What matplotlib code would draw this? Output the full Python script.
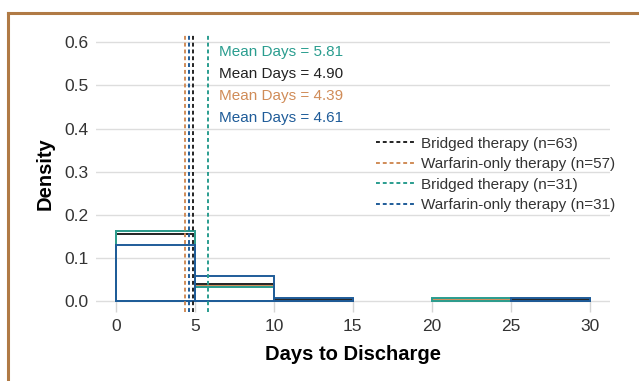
import numpy as np
import matplotlib
matplotlib.use("Agg")
import matplotlib.pyplot as plt
from matplotlib.lines import Line2D

plt.rcParams['font.family'] = ['Liberation Sans', 'DejaVu Sans']

# bins (days) and patient counts per bin
bin_edges = [0, 5, 10, 15, 20, 25, 30]
labels = ['Bridged therapy (n=63)', 'Warfarin-only therapy (n=57)',
          'Bridged therapy (n=31)', 'Warfarin-only therapy (n=31)']
counts_bridged_63 = [49, 12, 1, 0, 0, 1]
counts_warfarin_57 = [46, 10, 0, 0, 1, 0]
counts_bridged_31 = [25, 5, 0, 0, 1, 0]
counts_warfarin_31 = [20, 9, 1, 0, 0, 1]
mean_days = [4.90, 4.39, 5.81, 4.61]
colors = ['#222222', '#d08c58', '#2a9d8f', '#1f5c99']

# order of the mean text labels from top to bottom
text_order = [2, 0, 1, 3]
text_y = [0.577, 0.526, 0.475, 0.424]

all_counts = [counts_bridged_63, counts_warfarin_57, counts_bridged_31, counts_warfarin_31]

fig = plt.figure(figsize=(6.39, 3.81), dpi=100)
ax = fig.add_axes([0.150, 0.181, 0.805, 0.727])

edges = np.array(bin_edges)
widths = np.diff(edges)
for counts, color in zip(all_counts, colors):
    counts = np.array(counts, dtype=float)
    dens = counts / (counts.sum() * widths)
    mask = dens > 0
    ax.bar(edges[:-1][mask], dens[mask], width=widths[mask], align='edge',
           fill=False, edgecolor=color, linewidth=1.4, zorder=3)

for m, color, lab in zip(mean_days, colors, labels):
    ax.axvline(m, color=color, linestyle=(0, (2, 1.5)), linewidth=1.4, label=lab, zorder=4)

for i, y in zip(text_order, text_y):
    ax.text(6.53, y, f'Mean Days = {mean_days[i]:.2f}', color=colors[i],
            fontsize=11, va='center', ha='left')

ax.set_xlim(-1.27, 31.3)
ax.set_ylim(-0.026, 0.617)
ax.set_xticks([0, 5, 10, 15, 20, 25, 30])
ax.set_yticks([0.0, 0.1, 0.2, 0.3, 0.4, 0.5, 0.6])
ax.set_yticklabels(['0.0', '0.1', '0.2', '0.3', '0.4', '0.5', '0.6'])
for s in ax.spines.values():
    s.set_visible(False)
ax.grid(axis='y', color='#dddddd', linewidth=1)
ax.set_axisbelow(True)
ax.tick_params(axis='x', direction='in', length=8, color='#d4d4d4', width=1,
               labelsize=12.5, labelcolor='#333333', pad=5)
ax.tick_params(axis='y', length=0, labelsize=12.5, labelcolor='#333333', pad=5)
ax.set_xlabel('Days to Discharge', fontsize=14.5, fontweight='bold', labelpad=8)
ax.set_ylabel('Density', fontsize=14.5, fontweight='bold', labelpad=7)

leg = ax.legend(loc='upper left', bbox_to_anchor=(0.532, 0.655), frameon=False,
                fontsize=11, handlelength=2.5, handletextpad=0.5, labelspacing=0.42,
                borderaxespad=0)
for t in leg.get_texts():
    t.set_color('#333333')

# brown frame on top and left
fig.add_artist(Line2D([7.5 / 639, 1], [1 - 13 / 381, 1 - 13 / 381],
                      transform=fig.transFigure, color='#b07a45', linewidth=2.2))
fig.add_artist(Line2D([7.5 / 639, 7.5 / 639], [0, 1 - 13 / 381],
                      transform=fig.transFigure, color='#b07a45', linewidth=2.2))

fig.savefig('out.png', dpi=100)
